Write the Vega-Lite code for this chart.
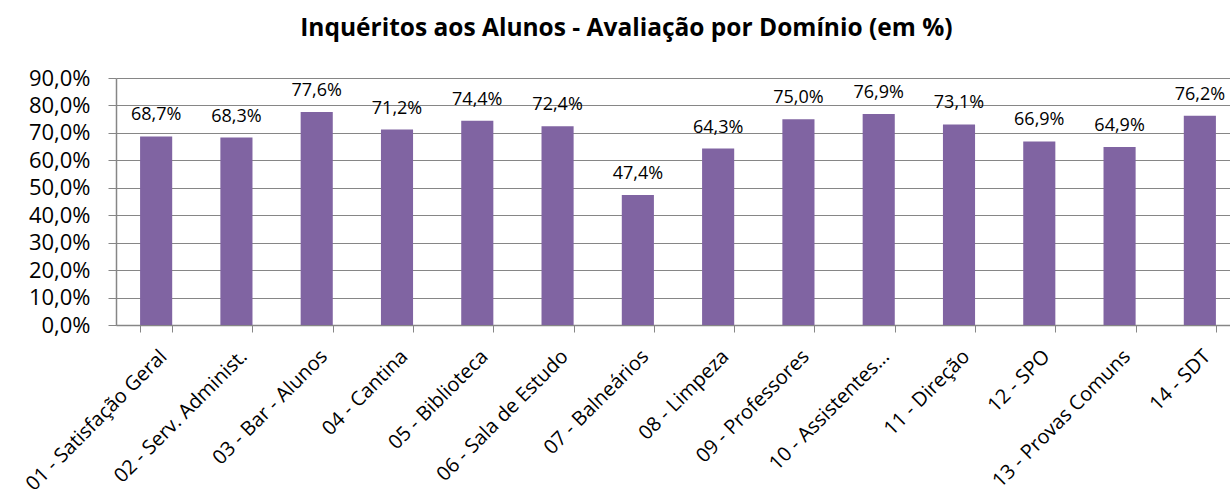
{
  "$schema": "https://vega.github.io/schema/vega-lite/v6.json",
  "autosize": "none",
  "width": 1109,
  "height": 247,
  "padding": {"left": 116, "top": 78, "right": 5, "bottom": 169},
  "background": "white",
  "title": {
    "text": "Inquéritos aos Alunos - Avaliação por Domínio (em %)",
    "anchor": "start",
    "dx": 278,
    "offset": 26,
    "font": "Open Sans",
    "fontSize": 24.5,
    "fontWeight": "bold",
    "color": "#000000"
  },
  "config": {
    "locale": {"number": {"decimal": ",", "thousands": ".", "grouping": [3], "currency": ["", " €"]}},
    "view": {"stroke": null},
    "axis": {"domainColor": "#868686", "tickColor": "#868686", "labelColor": "#000000", "labelFont": "Open Sans"}
  },
  "data": {
    "values": [
      {"dominio": "01 - Satisfação Geral", "valor": 0.687},
      {"dominio": "02 - Serv. Administ.", "valor": 0.683},
      {"dominio": "03 - Bar - Alunos", "valor": 0.776},
      {"dominio": "04 - Cantina", "valor": 0.712},
      {"dominio": "05 - Biblioteca", "valor": 0.744},
      {"dominio": "06 - Sala de Estudo", "valor": 0.724},
      {"dominio": "07 - Balneários", "valor": 0.474},
      {"dominio": "08 - Limpeza", "valor": 0.643},
      {"dominio": "09 - Professores", "valor": 0.750},
      {"dominio": "10 - Assistentes...", "valor": 0.769},
      {"dominio": "11 - Direção", "valor": 0.731},
      {"dominio": "12 - SPO", "valor": 0.669},
      {"dominio": "13 - Provas Comuns", "valor": 0.649},
      {"dominio": "14 - SDT", "valor": 0.762}
    ]
  },
  "encoding": {
    "x": {
      "field": "dominio",
      "type": "nominal",
      "sort": null,
      "scale": {"paddingInner": 0.6, "paddingOuter": 0.3, "range": [0, 1124]},
      "axis": {
        "title": null,
        "grid": false,
        "labelAngle": -45,
        "labelAlign": "right",
        "labelBaseline": "top",
        "labelFontSize": 20,
        "labelPadding": 14,
        "labelLimit": 400,
        "tickBand": "extent",
        "tickSize": 7,
        "domainWidth": 1.5
      }
    },
    "y": {
      "field": "valor",
      "type": "quantitative",
      "scale": {"domain": [0, 0.9], "nice": false},
      "axis": {
        "title": null,
        "grid": true,
        "gridColor": "#868686",
        "gridWidth": 1,
        "format": ".1%",
        "values": [0, 0.1, 0.2, 0.3, 0.4, 0.5, 0.6, 0.7, 0.8, 0.9],
        "labelFontSize": 22,
        "labelPadding": 18,
        "tickSize": 8,
        "domainWidth": 1.5
      }
    }
  },
  "layer": [
    {"mark": {"type": "bar", "color": "#8064A2"}},
    {
      "mark": {"type": "text", "baseline": "middle", "dy": -21, "font": "Open Sans", "fontSize": 18, "color": "#000000"},
      "encoding": {"text": {"field": "valor", "type": "quantitative", "format": ".1%"}}
    }
  ]
}
